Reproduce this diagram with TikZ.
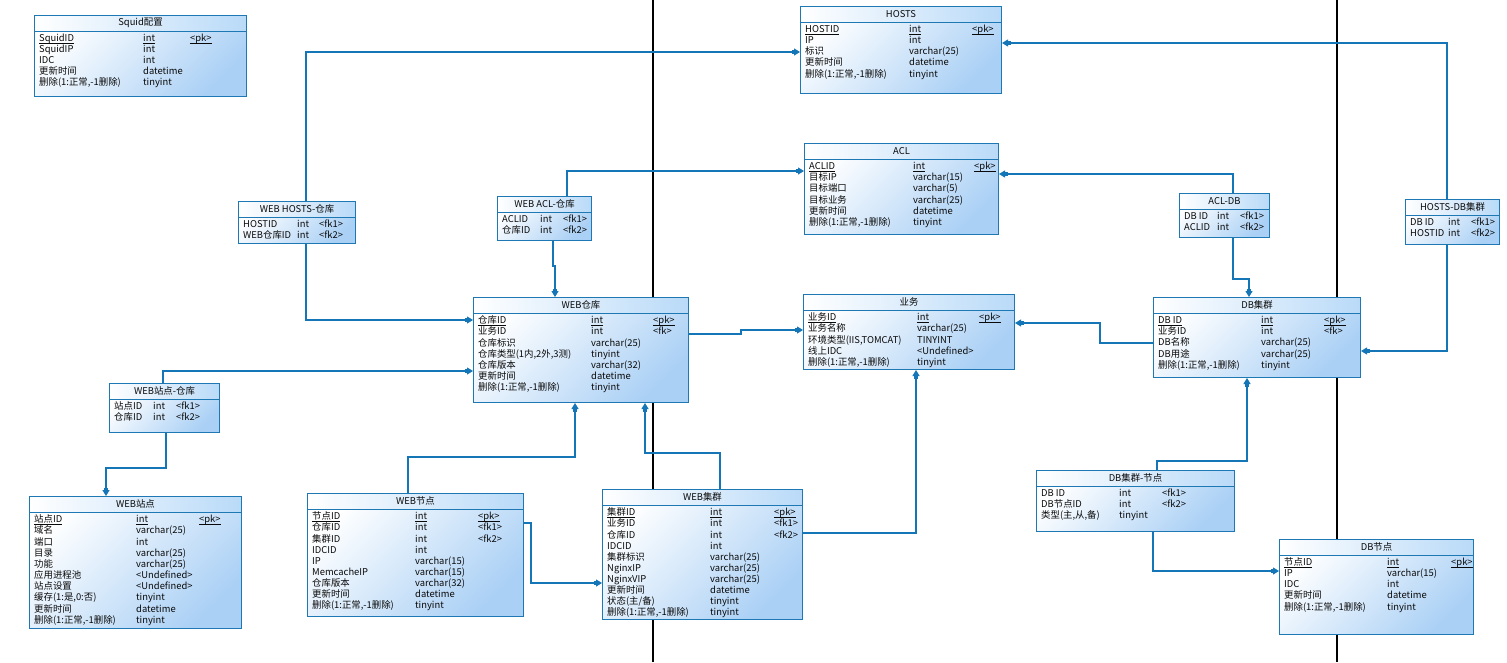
\documentclass[tikz,border=0pt]{standalone}
\usepackage{fontspec}
\setmainfont{Noto Sans CJK SC}
\usetikzlibrary{arrows.meta}
\definecolor{erborder}{RGB}{30,120,180}
\definecolor{erfill}{RGB}{170,208,245}
\definecolor{erhdr}{RGB}{185,218,248}
\definecolor{erline}{RGB}{20,118,182}
\definecolor{ertext}{RGB}{10,10,10}
\newcommand\ul[1]{\leavevmode\setbox0\hbox{#1}\rlap{\rule[-1.8pt]{\wd0}{0.55pt}}\box0}
\tikzset{
 tblbox/.style={draw=erborder, line width=1pt, top color=white, bottom color=erfill, shading angle=45, inner sep=0, anchor=north west},
 hdrbox/.style={draw=erborder, line width=1pt, left color=white, right color=erhdr, inner sep=0, anchor=north west, minimum height=15.5pt, font=\fontsize{9.4}{11}\selectfont, text=ertext},
 rowsbox/.style={inner sep=0, anchor=north west, font=\fontsize{9.4}{11}\selectfont, text=ertext},
 conn/.style={draw=erline, line width=1.1pt, -{Rectangle[length=2.5pt,width=3.5pt]Triangle[length=6pt,width=7pt]}},
 sepline/.style={draw=black, line width=1.2pt},
}
\newcommand\ertable[9]{%
 \node[tblbox, minimum width=#4pt, minimum height=#5pt] (#1) at (#2,#3) {};
 \node[hdrbox, minimum width=#4pt] (#1-h) at (#1.north west) {#6};
 \node[rowsbox] (#1-r) at ([xshift=5pt,yshift=-18.5pt]#1.north west) {\begin{tabular}{@{}p{#7pt}@{}p{#8pt}@{}l@{}}#9\end{tabular}};
}
\begin{document}
\begin{tikzpicture}[x=1pt,y=-1pt]
\fill[white] (0,0) rectangle (1507,662);
\useasboundingbox (0,0) rectangle (1507,662);
\draw[sepline] (653,0) -- (653,662);
\draw[sepline] (1337,0) -- (1337,662);

\ertable{sq}{34}{15}{212}{81}{Squid配置}{104}{47}{%
\ul{SquidID} & \ul{int} & \ul{<pk>}\\
SquidIP & int\\
IDC & int\\
更新时间 & datetime\\
删除(1:正常,-1删除) & tinyint}

\ertable{hosts}{800}{6}{201}{87}{HOSTS}{104}{63}{%
\ul{HOSTID} & \ul{int} & \ul{<pk>}\\
IP & int\\
标识 & varchar(25)\\
更新时间 & datetime\\
删除(1:正常,-1删除) & tinyint}

\ertable{acl}{804}{143}{194}{91}{ACL}{104}{61}{%
\ul{ACLID} & \ul{int} & \ul{<pk>}\\
目标IP & varchar(15)\\
目标端口 & varchar(5)\\
目标业务 & varchar(25)\\
更新时间 & datetime\\
删除(1:正常,-1删除) & tinyint}

\ertable{whh}{238}{201}{117}{42}{WEB HOSTS-仓库}{54}{22}{%
HOSTID & int & <fk1>\\
WEB仓库ID & int & <fk2>}

\ertable{wacl}{497}{196}{94}{44}{WEB ACL-仓库}{38}{23}{%
ACLID & int & <fk1>\\
仓库ID & int & <fk2>}

\ertable{acldb}{1179}{193}{90}{44}{ACL-DB}{33}{23}{%
DB ID & int & <fk1>\\
ACLID & int & <fk2>}

\ertable{hdb}{1405}{199}{94}{45}{HOSTS-DB集群}{38}{23}{%
DB ID & int & <fk1>\\
HOSTID & int & <fk2>}

\ertable{webck}{473}{297}{215}{105}{WEB仓库}{113}{62}{%
\ul{仓库ID} & \ul{int} & \ul{<pk>}\\
业务ID & int & <fk>\\
仓库标识 & varchar(25)\\
仓库类型(1内,2外,3测) & tinyint\\
仓库版本 & varchar(32)\\
更新时间 & datetime\\
删除(1:正常,-1删除) & tinyint}

\ertable{yw}{803}{294}{211}{75}{业务}{109}{62}{%
\ul{业务ID} & \ul{int} & \ul{<pk>}\\
业务名称 & varchar(25)\\
环境类型(IIS,TOMCAT) & TINYINT\\
线上IDC & <Undefined>\\
删除(1:正常,-1删除) & tinyint}

\ertable{db}{1153}{297}{207}{80}{DB集群}{103}{63}{%
\ul{DB ID} & \ul{int} & \ul{<pk>}\\
业务ID & int & <fk>\\
DB名称 & varchar(25)\\
DB用途 & varchar(25)\\
删除(1:正常,-1删除) & tinyint}

\ertable{wsck}{109}{383}{110}{49}{WEB站点-仓库}{39}{23}{%
站点ID & int & <fk1>\\
仓库ID & int & <fk2>}

\ertable{ws}{29}{496}{212}{132}{WEB站点}{102}{63}{%
\ul{站点ID} & \ul{int} & \ul{<pk>}\\
域名 & varchar(25)\\
端口 & int\\
目录 & varchar(25)\\
功能 & varchar(25)\\
应用进程池 & <Undefined>\\
站点设置 & <Undefined>\\
缓存(1:是,0:否) & tinyint\\
更新时间 & datetime\\
删除(1:正常,-1删除) & tinyint}

\ertable{webnode}{307}{493}{216}{123}{WEB节点}{103}{63}{%
\ul{节点ID} & \ul{int} & \ul{<pk>}\\
仓库ID & int & <fk1>\\
集群ID & int & <fk2>\\
IDCID & int\\
IP & varchar(15)\\
MemcacheIP & varchar(15)\\
仓库版本 & varchar(32)\\
更新时间 & datetime\\
删除(1:正常,-1删除) & tinyint}

\ertable{webcl}{602}{489}{200}{130}{WEB集群}{103}{64}{%
\ul{集群ID} & \ul{int} & \ul{<pk>}\\
业务ID & int & <fk1>\\
仓库ID & int & <fk2>\\
IDCID & int\\
集群标识 & varchar(25)\\
NginxIP & varchar(25)\\
NginxVIP & varchar(25)\\
更新时间 & datetime\\
状态(主/备) & tinyint\\
删除(1:正常,-1删除) & tinyint}

\ertable{dbn}{1036}{470}{198}{61}{DB集群-节点}{78}{43}{%
DB ID & int & <fk1>\\
DB节点ID & int & <fk2>\\
类型(主,从,备) & tinyint}

\ertable{dbnode}{1279}{539}{194}{95}{DB节点}{103}{64}{%
\ul{节点ID} & \ul{int} & \ul{<pk>}\\
IP & varchar(15)\\
IDC & int\\
更新时间 & datetime\\
删除(1:正常,-1删除) & tinyint}

% connectors
\draw[conn] ([xshift=68pt]whh.north west) |- ([yshift=-46pt]hosts.north west);
\draw[conn] ([xshift=68pt]whh.south west) |- ([yshift=-23pt]webck.north west);
\draw[conn] ([xshift=70pt]wacl.north west) |- ([yshift=-28pt]acl.north west);
\draw[conn] ([xshift=56pt]wacl.south west) -- ++(0,25) -| ([xshift=82pt]webck.north west);
\draw[conn] ([xshift=54pt]wsck.north west) |- ([yshift=-74pt]webck.north west);
\draw[conn] ([xshift=57pt]wsck.south west) -- ++(0,35) -| ([xshift=77pt]ws.north west);
\draw[conn] ([xshift=101pt]webnode.north west) -- ++(0,-36) -| ([xshift=102pt]webck.south west);
\draw[conn] ([yshift=-30pt]webnode.north east) -- ++(7,0) |- ([yshift=-94pt]webcl.north west);
\draw[conn] ([xshift=118pt]webcl.north west) -- ++(0,-36) -| ([xshift=172pt]webck.south west);
\draw[conn] ([yshift=-44pt]webcl.north east) -| ([xshift=113pt]yw.south west);
\draw[conn] ([yshift=-37pt]webck.north east) -- ++(52,0) |- ([yshift=-36pt]yw.north west);
\draw[conn] ([yshift=-46pt]db.north west) -- ++(-53,0) |- ([yshift=-29pt]yw.north east);
\draw[conn] ([xshift=54pt]acldb.north west) |- ([yshift=-31pt]acl.north east);
\draw[conn] ([xshift=54pt]acldb.south west) -- ++(0,41) -| ([xshift=96pt]db.north west);
\draw[conn] ([xshift=42pt]hdb.north west) |- ([yshift=-37pt]hosts.north east);
\draw[conn] ([xshift=42pt]hdb.south west) |- ([yshift=-54pt]db.north east);
\draw[conn] ([xshift=121pt]dbn.north west) -- ++(0,-9) -| ([xshift=94pt]db.south west);
\draw[conn] ([xshift=117pt]dbn.south west) |- ([yshift=-32pt]dbnode.north west);
\end{tikzpicture}
\end{document}
